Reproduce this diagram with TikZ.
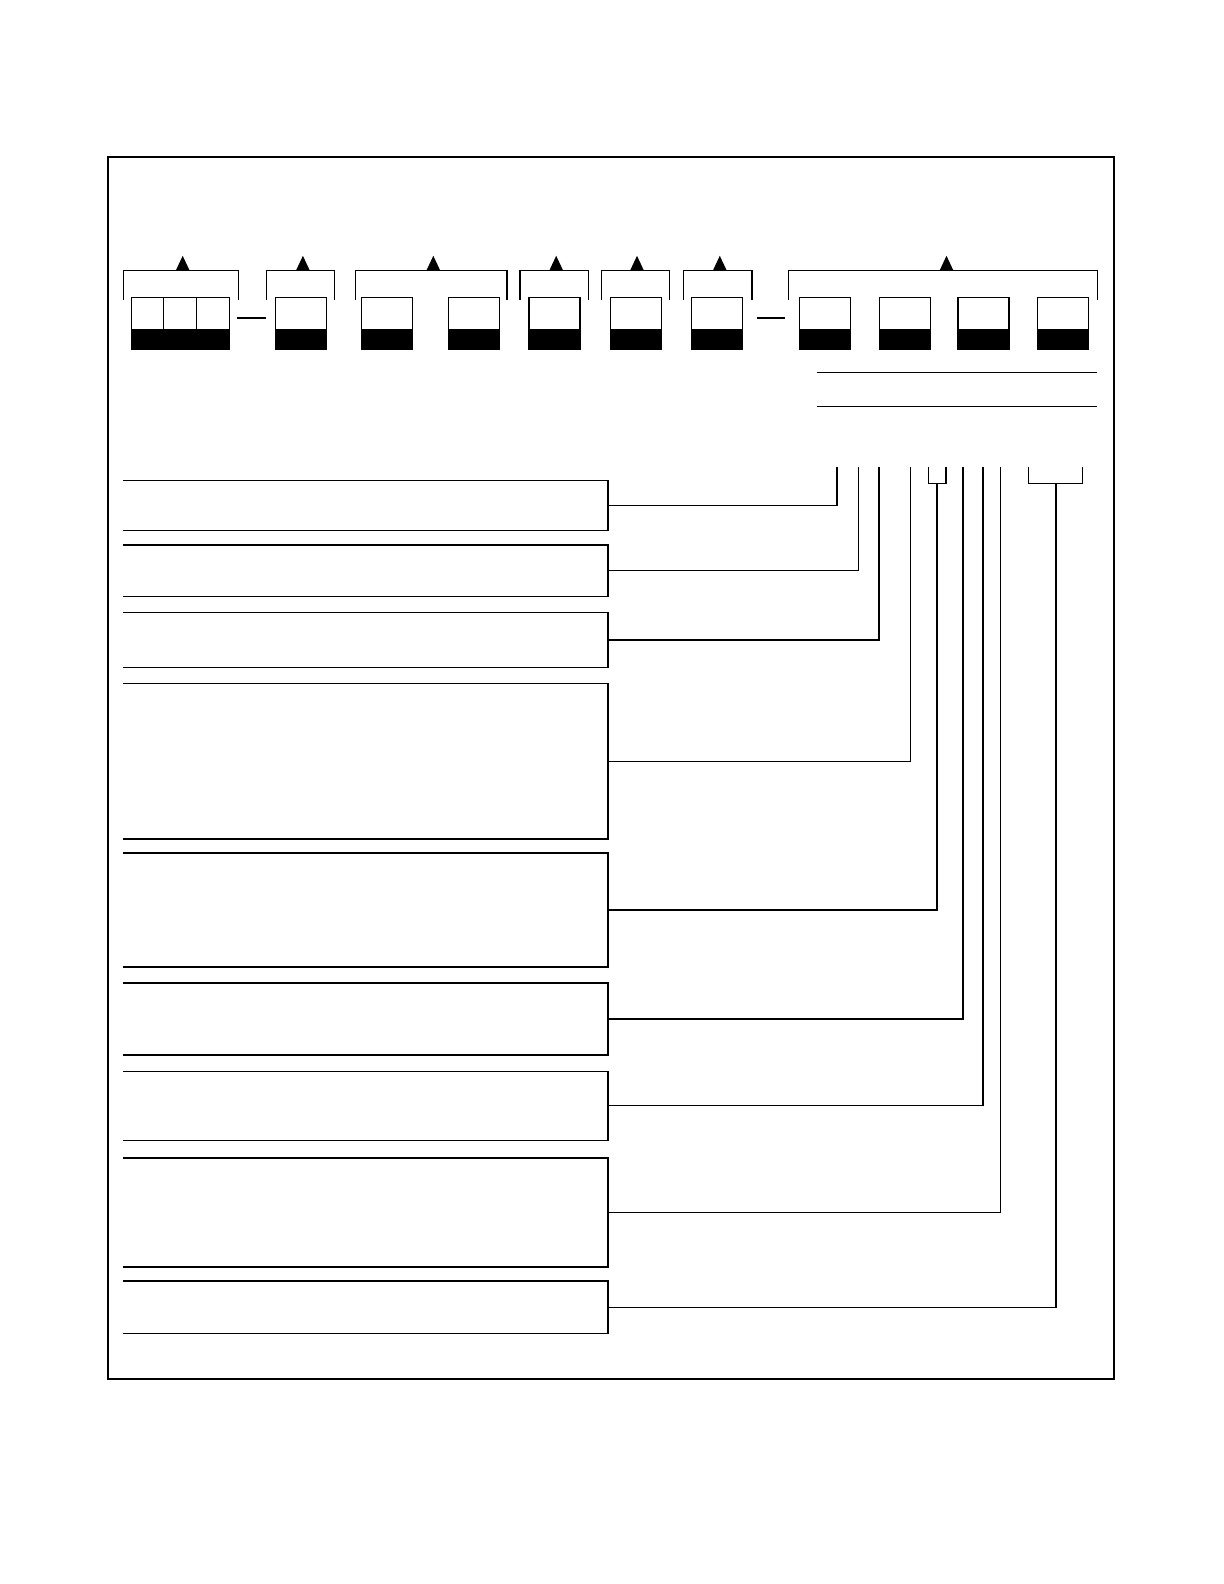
\documentclass[tikz,border=0pt]{standalone}
\usepackage{tikz}

\tikzset{
  rowbox/.style={minimum width=242.5pt, inner sep=0pt, outer sep=0pt},
  frameline/.style={line width=0.9pt}
}

\begin{document}
\begin{tikzpicture}[x=.5pt, y=-.5pt, line width=0.55pt]
    \useasboundingbox (0,0) rectangle (1224,1584);
    \draw[frameline] (107.7,156.7) rectangle (1114,1379);

    % brackets with their pointers
    \foreach \a/\b/\c in {123.2/238.3/182.7, 266.5/334.2/302.9, 355.5/507/433.3,
                          520/588.7/556.2, 601.7/669.3/637, 683.4/752/719.8,
                          788.8/1097.8/946.5}
    {
    \draw (\a,300) |- (\b,270.3) -- (\b,300);
    \fill (\c-6.8,270.3) -- (\c,255.8) -- (\c+6.8,270.3) -- cycle;
    }

    % code fields
    \draw (131.2,297.5) rectangle (229.2,349.3);
    \fill (131.2,329) rectangle (229.2,349.3);
    \foreach \x in {163.5,196.9}
    \draw (\x,297.5) -- (\x,329);
    \foreach \x in {275.6,361.4,448.2,529,610.7,691.5,799.5,879.3,958,1037.3}
    {
    \draw (\x,297.5) rectangle (\x+51,349.3);
    \fill (\x,329) rectangle (\x+51,349.3);
    }
    \draw (237.2,318) -- (265.5,318);
    \draw (757.1,318) -- (785.4,318);

    \draw (816.7,372.5) -- (1097,372.5);
    \draw (816.7,406.8) -- (1097,406.8);

    % option rows and their leads
    \foreach \n/\yc/\h/\sx/\sy in {r1/505.3/49.5/837/466.7, r2/570.8/51.6/858.5/466.7,
                                  r3/640/54.5/879/466.7, r4/761.2/155.6/910.6/466.7,
                                  r5/910/114/937/483.3, r6/1019/72/963/466.7,
                                  r7/1105.9/69.7/983/466.7, r8/1212.5/109/1000.6/466.7,
                                  r9/1307.3/52.6/1056/483.3}
    {
    \node[rowbox, minimum height=\h*.5pt] (\n) at (365.5,\yc) {};
    \draw (\n.north west) -- (\n.north east) -- (\n.south east) -- (\n.south west);
    \coordinate (t\n) at (\sx,\sy);
    \draw (\n.east) -| (t\n);
    }

    \draw (928.5,466.7) |- (946,483.3) -- (946,466.7);
    \draw (1028.5,466.7) |- (1082.5,483.3) -- (1082.5,466.7);

  \end{tikzpicture}
\end{document}
